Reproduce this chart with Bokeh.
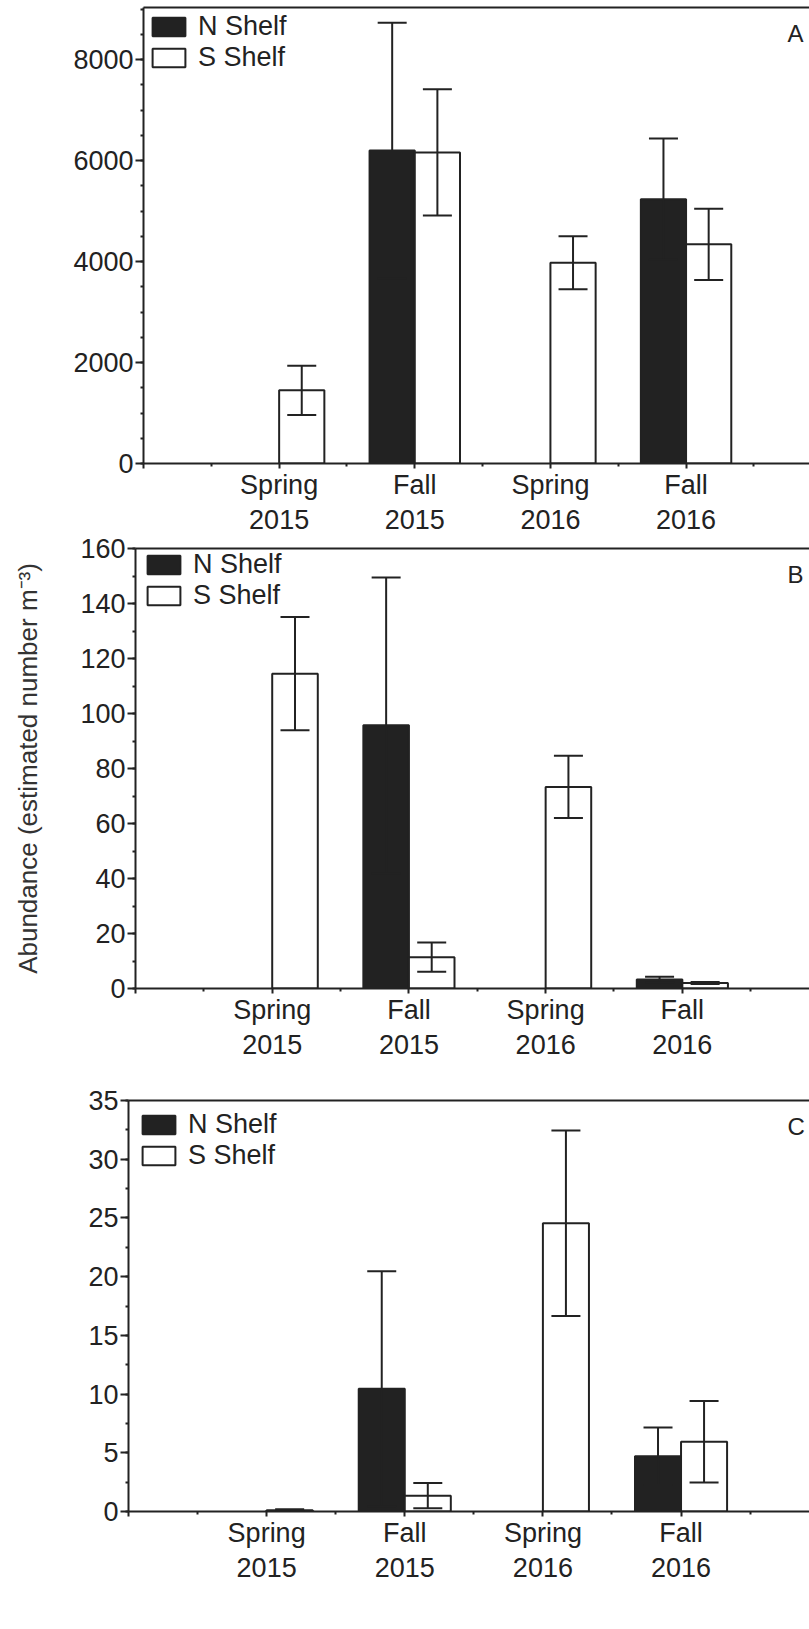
import math
from bokeh.plotting import figure
from bokeh.models import (Range1d, FixedTicker, LinearAxis, ColumnDataSource, Whisker,
                          TeeHead, Legend, LegendItem, Label, SingleIntervalTicker)
from bokeh.embed import file_html
from bokeh.resources import INLINE

# ---------------- data ----------------
categories = ["Spring\n2015", "Fall\n2015", "Spring\n2016", "Fall\n2016"]
positions = [1, 2, 3, 4]
series_names = ["N Shelf", "S Shelf"]

# Panel A
a_north = [None, 6200, None, 5235]
a_north_err = [None, 2530, None, 1200]
a_south = [1450, 6160, 3975, 4340]
a_south_err = [488, 1250, 525, 705]

# Panel B
b_north = [None, 95.7, None, 3.3]
b_north_err = [None, 53.8, None, 1.0]
b_south = [114.5, 11.4, 73.3, 2.0]
b_south_err = [20.6, 5.3, 11.3, 0.4]

# Panel C
c_north = [None, 10.45, None, 4.7]
c_north_err = [None, 10.0, None, 2.45]
c_south = [0.1, 1.35, 24.55, 5.95]
c_south_err = [0.1, 1.07, 7.9, 3.47]

y_title = "Abundance (estimated number m\u207b\u00b3)"
panel_letters = ["A", "B", "C"]

FONT = "Liberation Sans"
INK = "#222222"
BAR_W = 1 / 3


def series_source(vals, errs, shift):
    xs, ys, lo, hi = [], [], [], []
    for p, v, e in zip(positions, vals, errs):
        if v is None:
            continue
        xs.append(p + shift)
        ys.append(v)
        lo.append(v - e)
        hi.append(v + e)
    return ColumnDataSource(dict(x=xs, top=ys, lower=lo, upper=hi))


def make_panel(north, north_err, south, south_err, y_end, y_major, n_minor,
               x_end, height, left, top, bottom, letter, leg_loc, ylabel=None):
    p = figure(width=809, height=height, output_backend="svg", toolbar_location=None,
               x_range=Range1d(0, x_end), y_range=Range1d(0, y_end),
               min_border_left=left, min_border_right=0,
               min_border_top=top, min_border_bottom=bottom,
               background_fill_color="white", border_fill_color="white")
    p.outline_line_color = None
    p.xgrid.visible = False
    p.ygrid.visible = False

    src_n = series_source(north, north_err, -BAR_W / 2)
    src_s = series_source(south, south_err, BAR_W / 2)

    rn = p.vbar(x="x", top="top", width=BAR_W, source=src_n,
                fill_color=INK, line_color=INK, line_width=2)
    rs = p.vbar(x="x", top="top", width=BAR_W, source=src_s,
                fill_color="white", line_color=INK, line_width=2)

    for src in (src_n, src_s):
        w = Whisker(base="x", upper="upper", lower="lower", source=src, level="overlay",
                    line_color=INK, line_width=2,
                    upper_head=TeeHead(size=29, line_color=INK, line_width=2),
                    lower_head=TeeHead(size=29, line_color=INK, line_width=2))
        p.add_layout(w)

    # x axis
    xa = p.xaxis[0]
    xa.ticker = FixedTicker(ticks=[0] + positions, minor_ticks=[0.5, 1.5, 2.5, 3.5, 4.5])
    overrides = {0: ""}
    for pos, lab in zip(positions, categories):
        overrides[pos] = lab
    xa.major_label_overrides = overrides
    xa.major_tick_out = 5
    xa.major_tick_in = 0
    xa.minor_tick_out = 3
    xa.minor_tick_in = 0
    xa.major_label_standoff = 1
    xa.major_label_text_line_height = 1.17

    # y axis
    ya = p.yaxis[0]
    ya.ticker = SingleIntervalTicker(interval=y_major, num_minor_ticks=n_minor)
    ya.major_tick_out = 8
    ya.major_tick_in = 0
    ya.minor_tick_out = 3
    ya.minor_tick_in = 0
    ya.major_label_standoff = 2

    for ax in (xa, ya):
        ax.axis_line_width = 2
        ax.axis_line_color = INK
        ax.major_tick_line_width = 2
        ax.major_tick_line_color = INK
        ax.minor_tick_line_width = 2
        ax.minor_tick_line_color = INK
        ax.major_label_text_font = FONT
        ax.major_label_text_font_size = "27px"
        ax.major_label_text_color = INK

    if ylabel:
        ya.axis_label = ylabel
        ya.axis_label_text_font = FONT
        ya.axis_label_text_font_size = "26px"
        ya.axis_label_text_font_style = "normal"
        ya.axis_label_text_color = "#333333"
        ya.axis_label_standoff = 34

    # top border as a bare axis
    top_ax = LinearAxis(ticker=FixedTicker(ticks=[]), axis_line_width=2, axis_line_color=INK,
                        major_tick_out=0, major_tick_in=0, minor_tick_out=0, minor_tick_in=0,
                        major_label_standoff=0, major_label_text_font_size="0px")
    p.add_layout(top_ax, "above")

    legend = Legend(items=[LegendItem(label=series_names[0], renderers=[rn]),
                           LegendItem(label=series_names[1], renderers=[rs])],
                    location=leg_loc, margin=0, padding=0, spacing=0,
                    glyph_width=41, glyph_height=23, label_standoff=9,
                    label_text_font=FONT, label_text_font_size="27px",
                    label_text_color=INK, border_line_color=None,
                    background_fill_alpha=0)
    p.add_layout(legend)

    lab = Label(x=x_end, y=y_end, x_offset=-22, y_offset=-12, text=letter,
                text_font=FONT, text_font_size="24px", text_color=INK,
                text_align="left", text_baseline="top")
    p.add_layout(lab)
    return p


pa = make_panel(a_north, a_north_err, a_south, a_south_err, 9030, 2000, 4,
                4.91, 538, 143, 7, 75, panel_letters[0], (5, 390))
pb = make_panel(b_north, b_north_err, b_south, b_south_err, 160, 20, 2,
                4.93, 544, 135, 15, 89, panel_letters[1], (8, 377), ylabel=y_title)
pb.margin = (-5, 0, 0, 0)
pc = make_panel(c_north, c_north_err, c_south, c_south_err, 35, 5, 2,
                4.93, 552, 128, 23, 118, panel_letters[2], (10, 340))

# three independent panels stacked on the page (no frame alignment between them)
panels = [pa, pb, pc]
open("out.html", "w").write(file_html(panels, INLINE))
